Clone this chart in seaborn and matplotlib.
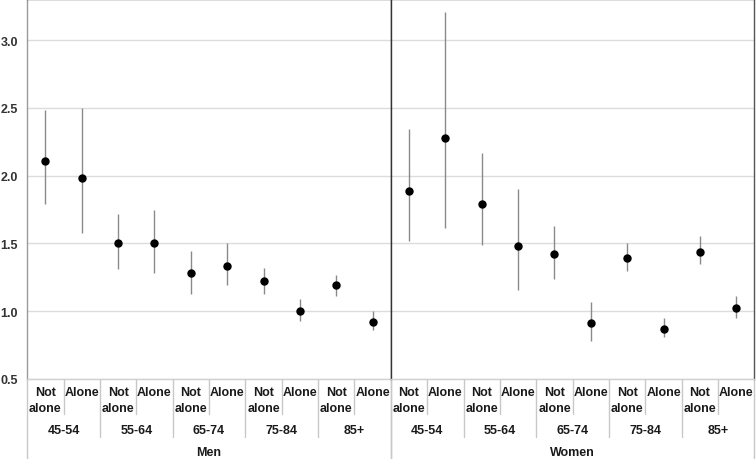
import matplotlib
matplotlib.use("Agg")
import matplotlib.pyplot as plt
import matplotlib.transforms as mtrans
import seaborn as sns
import pandas as pd

ages = ["45-54", "55-64", "65-74", "75-84", "85+"]
living = ["Not alone", "Alone"]
sexes = ["Men", "Women"]

men_est = [2.11, 1.98, 1.50, 1.50, 1.28, 1.33, 1.22, 1.00, 1.19, 0.92]
men_lo = [1.79, 1.58, 1.31, 1.285, 1.13, 1.19, 1.13, 0.93, 1.11, 0.86]
men_hi = [2.485, 2.50, 1.72, 1.75, 1.445, 1.50, 1.32, 1.09, 1.27, 1.00]

women_est = [1.89, 2.28, 1.79, 1.48, 1.42, 0.91, 1.39, 0.87, 1.44, 1.02]
women_lo = [1.52, 1.615, 1.49, 1.16, 1.235, 0.78, 1.30, 0.81, 1.345, 0.95]
women_hi = [2.345, 3.21, 2.167, 1.90, 1.63, 1.07, 1.50, 0.95, 1.557, 1.11]

yticks = [0.5, 1.0, 1.5, 2.0, 2.5, 3.0]

sns.set_style("white")
plt.rcParams["font.family"] = ["Liberation Sans", "DejaVu Sans"]
plt.rcParams["font.weight"] = "bold"

cats = [f"{a}|{l}" for a in ages for l in living]
frames = []
for sex, est, lo, hi in [("Men", men_est, men_lo, men_hi),
                         ("Women", women_est, women_lo, women_hi)]:
    frames.append(pd.DataFrame({"sex": sex, "cat": cats, "est": est, "lo": lo, "hi": hi}))
df = pd.concat(frames, ignore_index=True)

fig, axes = plt.subplots(1, 2, figsize=(7.56, 4.6), dpi=100, sharey=True)
fig.subplots_adjust(left=0.036, right=0.998, top=0.999, bottom=0.174, wspace=0)

sep_color = "#c8c8c8"
text_color = "#1a1a1a"
axh = 380.0

for k, (ax, sex) in enumerate(zip(axes, sexes)):
    d = df[df["sex"] == sex].reset_index(drop=True)
    ax.vlines(range(len(d)), d["lo"], d["hi"], color="#8a8a8a", linewidth=1.0, zorder=2)
    sns.pointplot(data=d, x="cat", y="est", order=cats, color="black",
                  linestyle="none", markers="o", markersize=4,
                  errorbar=None, ax=ax, zorder=3)
    ax.set_xlim(-0.5, len(cats) - 0.5)
    ax.set_ylim(0.5, 3.3)
    ax.set_yticks(yticks)
    ax.set_yticklabels([f"{v:.1f}" for v in yticks], fontsize=9, fontweight="bold", color="#333333")
    ax.yaxis.grid(True, color="#dcdcdc", linewidth=1.0)
    ax.set_axisbelow(True)
    ax.tick_params(axis="y", length=0, pad=6.5)
    ax.set_xticks([])
    ax.set_xlabel("")
    ax.set_ylabel("")
    for side in ["top", "bottom", "left", "right"]:
        ax.spines[side].set_visible(True)
    ax.spines["top"].set_color("#555555")
    ax.spines["bottom"].set_color("#d0d0d0")
    ax.spines["left"].set_color("#9a9a9a" if k == 0 else "#333333")
    ax.spines["right"].set_color("#333333" if k == 0 else "#555555")
    for sp in ax.spines.values():
        sp.set_linewidth(1.0)

    tr = mtrans.blended_transform_factory(ax.transData, ax.transAxes)
    for i, c in enumerate(cats):
        a, l = c.split("|")
        label = "Not\nalone" if l == "Not alone" else "Alone"
        ax.text(i, -7 / axh, label, transform=tr, ha="center", va="top",
                fontsize=9, fontweight="bold", color=text_color, linespacing=1.4)
    for j, a in enumerate(ages):
        ax.text(2 * j + 0.5, -51 / axh, a, transform=tr, ha="center", va="center",
                fontsize=9, fontweight="bold", color=text_color)
    ax.text(0.5, -73 / axh, sex, transform=ax.transAxes, ha="center", va="center",
            fontsize=9, fontweight="bold", color=text_color)

    # hierarchical separators below the axis
    for i in range(1, len(cats)):
        depth = 58 if i % 2 == 0 else 35
        ax.plot([i - 0.5, i - 0.5], [0, -depth / axh], transform=tr,
                color=sep_color, linewidth=1.0, clip_on=False)
    for xe in [-0.5, len(cats) - 0.5]:
        ax.plot([xe, xe], [0, -80 / axh], transform=tr,
                color=sep_color, linewidth=1.0, clip_on=False)

fig.savefig("out.png", dpi=100)
